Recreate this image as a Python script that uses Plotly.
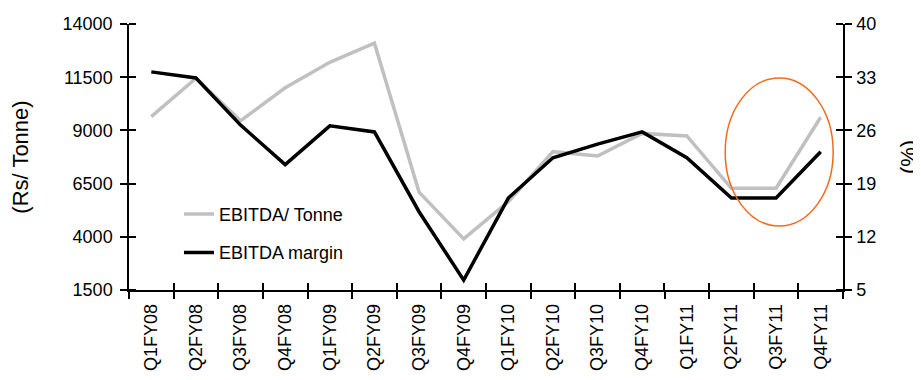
import plotly.graph_objects as go

categories = ["Q1FY08", "Q2FY08", "Q3FY08", "Q4FY08", "Q1FY09", "Q2FY09", "Q3FY09", "Q4FY09",
              "Q1FY10", "Q2FY10", "Q3FY10", "Q4FY10", "Q1FY11", "Q2FY11", "Q3FY11", "Q4FY11"]
ebitda_tonne = [9650, 11450, 9450, 11000, 12200, 13100, 6100, 3900,
                5650, 8000, 7800, 8860, 8740, 6280, 6280, 9620]
ebitda_margin = [33.7, 32.9, 26.7, 21.5, 26.6, 25.8, 15.3, 6.3,
                 17.1, 22.4, 24.2, 25.8, 22.4, 17.1, 17.1, 23.2]
left_ticks = [1500, 4000, 6500, 9000, 11500, 14000]
right_ticks = [5, 12, 19, 26, 33, 40]

FONT = "Liberation Sans, Arial, sans-serif"
GRAY = "#c0c0c0"
TS = 18

fig = go.Figure()
fig.add_trace(go.Scatter(x=categories, y=ebitda_tonne, name="EBITDA/ Tonne", mode="lines",
                         line=dict(color=GRAY, width=3.5), yaxis="y", legend="legend"))
fig.add_trace(go.Scatter(x=categories, y=ebitda_margin, name="EBITDA margin", mode="lines",
                         line=dict(color="black", width=3.5), yaxis="y2", legend="legend2"))
# invisible helper so the inner x tick axis is drawn (crossing tick marks)
fig.add_trace(go.Scatter(x=[None], y=[None], xaxis="x2", yaxis="y", showlegend=False,
                         hoverinfo="skip"))

axis_common = dict(showgrid=False, zeroline=False, linecolor="black", linewidth=1.5,
                   tickcolor="black", tickwidth=1.5, ticklen=7, automargin=False)

fig.update_layout(
    width=913, height=372,
    margin=dict(l=121, r=78, t=16, b=90, autoexpand=False),
    paper_bgcolor="white", plot_bgcolor="white",
    font=dict(family=FONT, size=TS, color="black"),
    xaxis=dict(type="category", range=[-0.5, 15.5], tickson="boundaries", ticks="outside",
               showline=True, tickangle=-90, tickfont=dict(size=TS), ticklabelstandoff=5,
               **axis_common),
    xaxis2=dict(overlaying="x", range=[-0.5005, 15.5005], tick0=-0.5, dtick=1, anchor="y",
                showticklabels=False, showline=False, showgrid=False, zeroline=False,
                tickcolor="black", tickwidth=1.5, ticklen=7, ticks="inside",
                automargin=False),
    yaxis=dict(range=[1500, 14000], tickvals=left_ticks,
               ticktext=[str(v) for v in left_ticks], ticks="outside", showline=True,
               ticklabelstandoff=4,
               minor=dict(tickvals=left_ticks, ticks="inside", ticklen=7, tickcolor="black",
                          tickwidth=1.5),
               title=dict(text="(Rs/ Tonne)", standoff=28), **axis_common),
    yaxis2=dict(range=[5, 40], tickvals=right_ticks, ticktext=[str(v) for v in right_ticks],
                ticks="outside", showline=True, overlaying="y", side="right", anchor="x",
                ticklabelstandoff=1,
                minor=dict(tickvals=right_ticks, ticks="inside", ticklen=7, tickcolor="black",
                           tickwidth=1.5),
                title=dict(text="(%)", standoff=28), **axis_common),
    legend=dict(x=0.07, y=0.285, xanchor="left", yanchor="middle", bgcolor="rgba(0,0,0,0)",
                font=dict(size=TS)),
    legend2=dict(x=0.07, y=0.14, xanchor="left", yanchor="middle", bgcolor="rgba(0,0,0,0)",
                 font=dict(size=TS)),
    showlegend=True,
)

fig.add_shape(type="circle", xref="x", yref="y", x0=12.86, x1=15.28, y0=4508, y1=11462,
              line=dict(color="#f26a1b", width=1.5))

fig.write_html("out.html")
